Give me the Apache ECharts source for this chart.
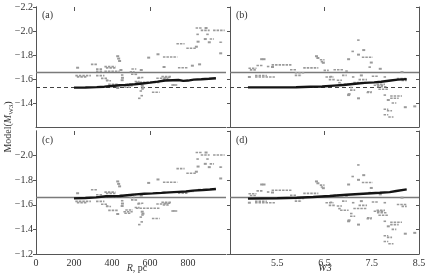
<!DOCTYPE html>
<html>
<head>
<meta charset="utf-8">
<script src="https://cdn.jsdelivr.net/npm/echarts@6/dist/echarts.min.js"></script>
<style>html,body{margin:0;padding:0;background:#fff}#c{width:430px;height:276px}</style>
</head>
<body>
<div id="c"></div>
<script>
// ---- data ----
// observed points vs R (panels a, c): [R start, R end, M]
const rRuns = [
  [219,219,-1.694],[207,289,-1.628],[215,265,-1.618],[289,321,-1.722],[316,351,-1.682],
  [316,351,-1.664],[316,360,-1.628],[360,418,-1.703],[430,430,-1.79],[435,435,-1.77],
  [440,440,-1.75],[342,377,-1.605],[368,395,-1.586],[447,447,-1.675],[447,465,-1.633],
  [455,455,-1.61],[380,432,-1.555],[360,440,-1.665],[493,519,-1.66],[500,520,-1.64],
  [840,874,-2.025],[888,902,-2.025],[867,914,-2.005],[932,993,-2.005],[844,861,-1.972],
  [896,914,-1.972],[891,891,-1.933],[914,937,-1.933],[853,853,-1.911],[905,919,-1.906],
  [965,984,-1.906],[739,782,-1.894],[791,844,-1.856],[844,844,-1.869],[972,972,-1.814],
  [593,593,-1.778],[642,642,-1.806],[668,744,-1.783],[861,861,-1.722],[823,823,-1.711],
  [747,800,-1.694],[674,674,-1.70],[502,528,-1.683],[554,554,-1.675],[519,537,-1.639],
  [533,554,-1.606],[633,695,-1.606],[660,712,-1.62],[519,545,-1.578],[712,747,-1.55],
  [563,563,-1.528],[545,563,-1.50],[550,568,-1.461],[537,554,-1.439],[610,651,-1.489],
  [554,572,-1.517],[526,652,-1.572],[447,460,-1.59],[470,509,-1.558],[460,509,-1.544],
  [465,500,-1.531],[430,430,-1.525],[553,565,-1.544],[675,710,-1.612],[667,702,-1.598],
  [719,737,-1.55],[535,565,-1.612],[368,386,-1.59],[368,421,-1.693]
];
// observed points vs W3 (panels b, d): [W3 start, W3 end, M]
const w3Runs = [
  [4.89,5.06,-1.69],[4.92,5.06,-1.676],[5.06,5.2,-1.713],[5.17,5.17,-1.765],[5.22,5.22,-1.765],
  [5.28,5.35,-1.704],[5.38,5.8,-1.718],[5.4,5.4,-1.70],[5.03,5.45,-1.617],[5.03,5.28,-1.628],
  [4.91,4.91,-1.617],[5.77,5.91,-1.677],[5.87,6.09,-1.652],[5.87,6.02,-1.63],[6.05,6.37,-1.693],
  [6.33,6.33,-1.79],[6.36,6.36,-1.775],[6.4,6.5,-1.76],[6.42,6.5,-1.745],[6.45,6.5,-1.735],
  [7.19,7.26,-1.924],[7.07,7.14,-1.83],[7.33,7.33,-1.841],[7.22,7.22,-1.803],[7.29,7.52,-1.781],
  [7.01,7.01,-1.765],[7.49,7.49,-1.737],[7.43,7.5,-1.699],[7.68,7.68,-1.685],[8.14,8.14,-1.658],
  [6.48,6.59,-1.672],[6.69,6.9,-1.677],[6.94,7.01,-1.666],[6.87,6.97,-1.63],[6.59,6.73,-1.595],
  [6.76,6.87,-1.59],[7.08,7.15,-1.617],[7.28,7.28,-1.63],[7.75,7.82,-1.617],[8.03,8.24,-1.603],
  [7.22,7.4,-1.595],[6.83,7.01,-1.556],[7.04,7.11,-1.529],[7.04,7.15,-1.507],[7.54,7.75,-1.548],
  [7.61,7.82,-1.535],[7.64,7.85,-1.515],[7.4,7.5,-1.494],[7.01,7.01,-1.466],[7.22,7.22,-1.439],
  [7.75,7.82,-1.466],[7.89,8.14,-1.458],[7.89,8.07,-1.439],[7.85,7.85,-1.425],[8.21,8.21,-1.365],
  [7.75,7.85,-1.348],[7.82,7.93,-1.335],[7.75,7.85,-1.302],[7.85,7.96,-1.283],[7.92,8.02,-1.40],
  [6.52,6.69,-1.617],[7.11,7.39,-1.57],[7.5,7.64,-1.623],[8.13,8.24,-1.587],[8.41,8.41,-1.372],
  [6.61,6.68,-1.62],[6.79,6.86,-1.569],[7.02,7.02,-1.474],[7.39,7.5,-1.488],[7.6,7.78,-1.555]
];
// model curves
const modelRa = [[200,-1.528],[260,-1.529],[320,-1.532],[360,-1.536],[400,-1.542],[440,-1.548],[480,-1.551],[520,-1.556],[560,-1.563],[600,-1.57],[640,-1.578],[680,-1.587],[720,-1.59],[750,-1.592],[775,-1.584],[800,-1.587],[830,-1.595],[870,-1.598],[910,-1.602],[947,-1.606]];
const modelRc = [[200,-1.652],[260,-1.655],[316,-1.66],[368,-1.67],[440,-1.672],[480,-1.678],[526,-1.685],[570,-1.69],[614,-1.693],[660,-1.697],[702,-1.701],[750,-1.705],[789,-1.708],[825,-1.715],[877,-1.72],[915,-1.724],[947,-1.728]];
const modelWb = [[4.88,-1.53],[5.5,-1.53],[5.9,-1.531],[6.2,-1.535],[6.45,-1.537],[6.7,-1.545],[6.9,-1.55],[7.15,-1.56],[7.35,-1.568],[7.55,-1.572],[7.7,-1.577],[7.9,-1.588],[8.05,-1.595],[8.24,-1.599]];
const modelWd = [[4.88,-1.65],[5.5,-1.653],[5.91,-1.657],[6.26,-1.663],[6.61,-1.671],[6.97,-1.682],[7.32,-1.69],[7.67,-1.698],[7.88,-1.703],[8.02,-1.712],[8.24,-1.725]];
const refSolid = -1.66;
const refDashed = -1.53;
const rTopTicks = [200, 600];
const w3TopTicks = [6.5];
const panelLabels = ['(a)', '(b)', '(c)', '(d)'];

// ---- chart ----
const FONT = 'Liberation Serif';
const AX = '#555';
const TXT = '#333';
const chart = echarts.init(document.getElementById('c'), null, {renderer: 'canvas'});

const grids = [
  {left: 36, top: 7, width: 190, height: 120},
  {left: 230, top: 7, width: 189, height: 120},
  {left: 36, top: 131, width: 190, height: 123},
  {left: 230, top: 131, width: 189, height: 123}
];
const fmtY = v => (v < 0 ? '\u2212' : '') + Math.abs(v).toFixed(1);

const xAxes = [];
const yAxes = [];
for (let i = 0; i < 4; i++) {
  const isR = (i % 2 === 0);
  const bottomRow = i >= 2;
  xAxes.push({
    gridIndex: i, type: 'value', position: 'bottom',
    min: isR ? 0 : 4.5, max: isR ? 1000 : 8.5, interval: isR ? 200 : 1,
    axisLine: {show: true, lineStyle: {color: AX, width: 1}},
    axisTick: {show: false},
    splitLine: {show: false},
    axisLabel: {show: bottomRow, showMaxLabel: !isR, showMinLabel: isR, margin: 4,
      fontFamily: FONT, fontSize: 10, color: TXT}
  });
}
for (let i = 0; i < 4; i++) {
  const isR = (i % 2 === 0);
  xAxes.push({
    gridIndex: i, type: 'value', position: 'top',
    min: isR ? 0 : 4.5, max: isR ? 1000 : 8.5,
    axisLine: {show: false},
    axisTick: {show: true, inside: true, length: 4, customValues: isR ? rTopTicks : w3TopTicks,
      lineStyle: {color: AX}},
    axisLabel: {show: false},
    splitLine: {show: false}
  });
}
for (let i = 0; i < 4; i++) {
  const isR = (i % 2 === 0);
  const bottomRow = i >= 2;
  yAxes.push({
    gridIndex: i, type: 'value', position: 'left', inverse: true,
    min: -2.2, max: -1.2, interval: 0.2,
    axisLine: {show: true, lineStyle: {color: AX, width: 1}},
    axisTick: {show: true, inside: false, length: 3, lineStyle: {color: AX}},
    splitLine: {show: false},
    axisLabel: {show: isR, formatter: fmtY, margin: 3, fontFamily: FONT, fontSize: 10, color: TXT,
      showMinLabel: !bottomRow, showMaxLabel: bottomRow}
  });
}
for (let i = 0; i < 4; i++) {
  const isR = (i % 2 === 0);
  yAxes.push({
    gridIndex: i, type: 'value', position: 'right', inverse: true,
    min: -2.2, max: -1.2, interval: 0.2,
    axisLine: {show: true, lineStyle: {color: AX, width: 1}},
    axisTick: {show: !isR, inside: true, length: 3, lineStyle: {color: AX}},
    splitLine: {show: false},
    axisLabel: {show: false}
  });
}

function runSeries(idx, runs) {
  return {
    type: 'custom', xAxisIndex: idx, yAxisIndex: idx, z: 2,
    data: runs,
    encode: {x: [0, 1], y: 2},
    renderItem: function (params, api) {
      const p0 = api.coord([api.value(0), api.value(2)]);
      const p1 = api.coord([api.value(1), api.value(2)]);
      const len = p1[0] - p0[0];
      if (len < 3) {
        const cx = (p0[0] + p1[0]) / 2;
        return {type: 'rect', shape: {x: cx - 1.5, y: p0[1] - 1, width: 3, height: 2},
          style: {fill: '#9a9a9a'}};
      }
      return {type: 'line', shape: {x1: p0[0], y1: p0[1], x2: p1[0], y2: p1[1]},
        style: {stroke: '#9a9a9a', lineWidth: 1.6, lineDash: [2.5, 1]}};
    },
    silent: true
  };
}
function modelSeries(idx, data, withDashed) {
  const ml = [{yAxis: refSolid, lineStyle: {color: '#7a7a7a', width: 1.4, type: 'solid'}}];
  if (withDashed) ml.push({yAxis: refDashed, lineStyle: {color: '#444', width: 1, type: [4, 3]}});
  return {
    type: 'line', xAxisIndex: idx, yAxisIndex: idx, z: 3,
    data: data, showSymbol: false, symbol: 'none',
    lineStyle: {color: '#141414', width: 2.4},
    markLine: {silent: true, symbol: 'none', label: {show: false}, animation: false, data: ml, z: 1},
    silent: true
  };
}

const series = [
  runSeries(0, rRuns), runSeries(1, w3Runs), runSeries(2, rRuns), runSeries(3, w3Runs),
  modelSeries(0, modelRa, true), modelSeries(1, modelWb, true),
  modelSeries(2, modelRc, false), modelSeries(3, modelWd, false)
];

const graphic = [];
const labelPos = [[42, 15], [236, 15], [42, 140], [236, 140]];
panelLabels.forEach((t, i) => graphic.push({
  type: 'text', x: labelPos[i][0], y: labelPos[i][1],
  style: {text: t, fontFamily: FONT, fontSize: 10, fill: TXT, verticalAlign: 'middle'}
}));
graphic.push({
  type: 'text', x: 8, y: 127, rotation: Math.PI / 2,
  style: {
    text: '{n|Model(}{i|M}{s|W3}{n|)}', align: 'center', verticalAlign: 'middle',
    fontFamily: FONT, fontSize: 10, fill: TXT,
    rich: {
      n: {fontFamily: FONT, fontSize: 10, lineHeight: 14, fill: TXT, color: TXT},
      i: {fontFamily: FONT, fontSize: 10, lineHeight: 14, fontStyle: 'italic', color: TXT},
      s: {fontFamily: FONT, fontSize: 7, lineHeight: 8, verticalAlign: 'bottom', color: TXT}
    }
  }
});
graphic.push({
  type: 'text', x: 137, y: 268,
  style: {
    text: '{i|R}{n|, pc}', align: 'center', verticalAlign: 'middle',
    fontFamily: FONT, fontSize: 10, fill: TXT,
    rich: {
      n: {fontFamily: FONT, fontSize: 10, color: TXT},
      i: {fontFamily: FONT, fontSize: 10, fontStyle: 'italic', color: TXT}
    }
  }
});
graphic.push({
  type: 'text', x: 325, y: 268,
  style: {text: 'W3', align: 'center', verticalAlign: 'middle', fontFamily: FONT,
    fontSize: 10, fontStyle: 'italic', fill: TXT}
});

chart.setOption({
  animation: false,
  backgroundColor: '#fff',
  grid: grids,
  xAxis: xAxes,
  yAxis: yAxes,
  series: series,
  graphic: graphic
});
</script>
</body>
</html>
